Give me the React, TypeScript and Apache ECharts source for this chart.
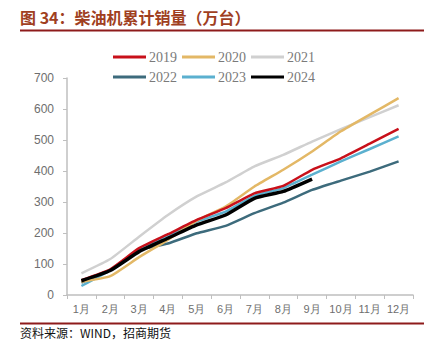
import React, { useEffect, useRef } from "react";
import * as echarts from "echarts";

const months = ["1月", "2月", "3月", "4月", "5月", "6月", "7月", "8月", "9月", "10月", "11月", "12月"];
const s2019 = [48, 83, 151, 196, 242, 280, 328, 352, 404, 441, 488, 536];
const s2020 = [43, 61, 122, 178, 240, 285, 350, 404, 463, 528, 582, 635];
const s2021 = [70, 116, 188, 258, 318, 363, 415, 452, 495, 535, 574, 612];
const s2022 = [40, 80, 145, 166, 199, 223, 264, 298, 339, 369, 398, 431];
const s2023 = [29, 80, 145, 192, 237, 269, 320, 345, 388, 431, 471, 512];
const s2024 = [46, 79, 140, 183, 226, 258, 312, 334, 374];

const names = ["2019", "2020", "2021", "2022", "2023", "2024"];
const colors = ["#c8101a", "#e3b866", "#d0d0d0", "#3d6b7c", "#5bb0cf", "#000000"];
const widths = [2.5, 2.5, 2.5, 2.5, 2.5, 3.5];
const seriesData = [s2019, s2020, s2021, s2022, s2023, s2024];

export default function App() {
  const ref = useRef<HTMLDivElement>(null);
  useEffect(() => {
    const chart = echarts.init(ref.current!, null, { renderer: "svg" });
    const legendCommon = {
      left: 108,
      icon: "rect",
      itemWidth: 33,
      itemHeight: 3,
      itemGap: 5,
      textStyle: {
        fontFamily: "Liberation Serif",
        fontSize: 14,
        color: "#7a7a7a",
        width: 50,
        padding: [0, 0, 0, -2],
      },
    };
    chart.setOption({
      animation: false,
      color: colors,
      graphic: [
        {
          type: "text",
          left: 20,
          top: 9,
          style: {
            text: "图 34：柴油机累计销量（万台）",
            fontSize: 16,
            fontWeight: "bold",
            fill: "#a03f1f",
            fontFamily: "Noto Sans CJK SC",
          },
        },
        {
          type: "line",
          shape: { x1: 20, y1: 30.5, x2: 424, y2: 30.5 },
          style: { stroke: "#8e1b1b", lineWidth: 2 },
        },
        {
          type: "line",
          shape: { x1: 20, y1: 323.5, x2: 424, y2: 323.5 },
          style: { stroke: "#8e1b1b", lineWidth: 2 },
        },
        {
          type: "text",
          left: 20,
          top: 326,
          style: {
            text: "资料来源：WIND，招商期货",
            fontSize: 12,
            fill: "#111",
            fontFamily: "Noto Sans CJK SC",
          },
        },
      ],
      legend: [
        { ...legendCommon, top: 45, data: names.slice(0, 3) },
        { ...legendCommon, top: 65, data: names.slice(3, 6) },
      ],
      grid: { left: 67, right: 23, top: 78, bottom: 63 },
      xAxis: {
        type: "category",
        data: months,
        boundaryGap: true,
        axisLine: { lineStyle: { color: "#bfbfbf", width: 1.5 } },
        axisTick: { show: true, length: 4, lineStyle: { color: "#bfbfbf" } },
        axisLabel: { color: "#6e6e6e", fontSize: 11, margin: 8, interval: 0, fontFamily: "Liberation Sans" },
      },
      yAxis: {
        type: "value",
        min: 0,
        max: 700,
        interval: 100,
        splitLine: { show: false },
        axisLine: { show: true, lineStyle: { color: "#bfbfbf", width: 1.5 } },
        axisTick: { show: true, length: 4, lineStyle: { color: "#bfbfbf" } },
        axisLabel: { color: "#6e6e6e", fontSize: 12, margin: 13, fontFamily: "Liberation Sans" },
      },
      series: names.map((n, i) => ({
        name: n,
        type: "line",
        data: seriesData[i],
        symbol: "none",
        smooth: 0.15,
        z: i === 5 ? 10 : 2 + (5 - i),
        lineStyle: { color: colors[i], width: widths[i] },
        itemStyle: { color: colors[i] },
      })),
    });
    return () => chart.dispose();
  }, []);
  return <div ref={ref} style={{ width: 436, height: 358, position: "absolute", left: 0, top: 0 }} />;
}
